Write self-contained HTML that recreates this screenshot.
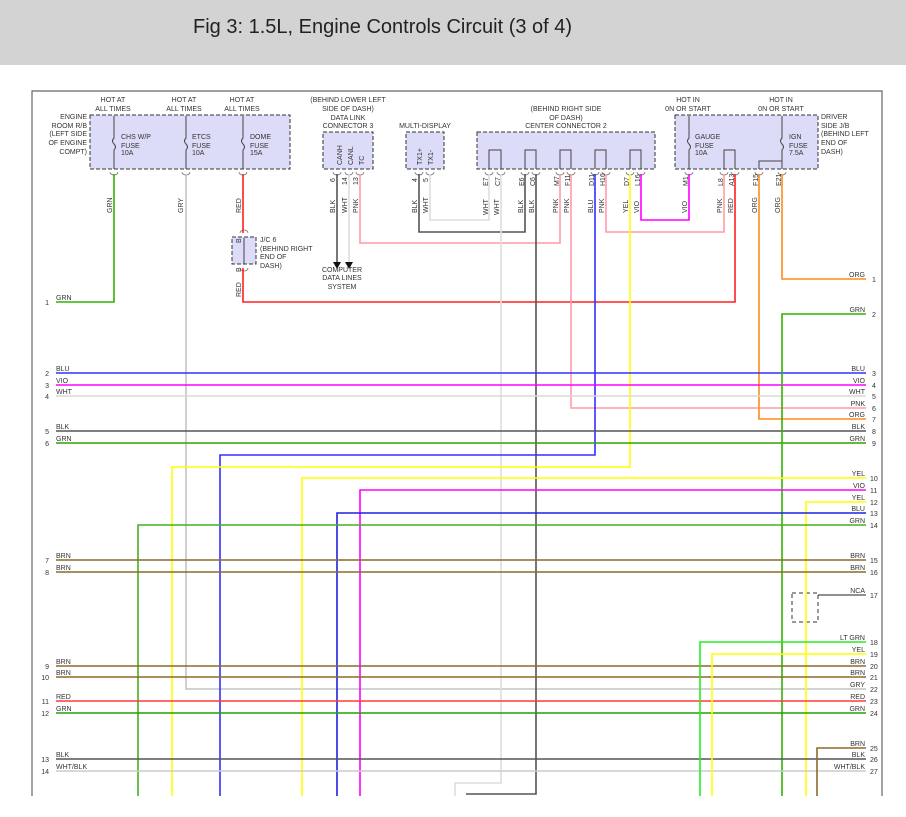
<!DOCTYPE html>
<html><head><meta charset="utf-8"><style>
html,body{margin:0;padding:0;background:#fff;}
svg{display:block;}
text{font-family:"Liberation Sans",sans-serif;font-size:7px;fill:#333;}
.t{font-family:"Liberation Sans",sans-serif;font-size:20px;fill:#222;}
.n{font-size:7px;fill:#444;}
</style></head><body>
<svg width="906" height="817" viewBox="0 0 906 817" xmlns="http://www.w3.org/2000/svg">
<rect x="0" y="0" width="906" height="65" fill="#d3d3d3"/>
<text class="t" x="193" y="33">Fig 3: 1.5L, Engine Controls Circuit (3 of 4)</text>

<path d="M32 796 V91 H882 V796" fill="none" stroke="#666" stroke-width="1.2"/>

<g fill="#dcdcf8" stroke="#333" stroke-dasharray="4,2" stroke-width="1">
<rect x="90" y="115" width="200" height="54"/>
<rect x="323" y="132" width="50" height="37"/>
<rect x="406" y="132" width="38" height="37"/>
<rect x="477" y="132" width="178" height="37"/>
<rect x="675" y="115" width="143" height="54"/>
<rect x="232" y="237" width="24" height="27"/>
</g>
<rect x="792" y="593" width="26" height="29" fill="none" stroke="#333" stroke-dasharray="4,3"/>

<g fill="none" stroke="#444" stroke-width="1">
<path d="M114 116V138 q-3 3 0 6 q3 3 0 6 V169"/>
<path d="M186 116V138 q-3 3 0 6 q3 3 0 6 V169"/>
<path d="M243 116V138 q-3 3 0 6 q3 3 0 6 V169"/>
<path d="M689 116V138 q-3 3 0 6 q3 3 0 6 V169"/>
<path d="M782 116V138 q-3 3 0 6 q3 3 0 6 V169"/>
<path d="M759 169 V161 H782"/>
<path d="M244 238V264"/>
<path d="M489 169V150H501V169 M525 169V150H536V169 M560 169V150H571V169 M595 169V150H606V169 M630 169V150H641V169 M724 169V150H735V169"/>
</g>
<g fill="none" stroke="#777" stroke-width="0.8">
<path d="M110 172 a4 3 0 0 0 8 0 M182 172 a4 3 0 0 0 8 0 M239 172 a4 3 0 0 0 8 0
M333 172 a4 3 0 0 0 8 0 M345 172 a4 3 0 0 0 8 0 M356 172 a4 3 0 0 0 8 0
M415 172 a4 3 0 0 0 8 0 M426 172 a4 3 0 0 0 8 0
M485 172 a4 3 0 0 0 8 0 M497 172 a4 3 0 0 0 8 0 M521 172 a4 3 0 0 0 8 0 M532 172 a4 3 0 0 0 8 0
M556 172 a4 3 0 0 0 8 0 M567 172 a4 3 0 0 0 8 0 M591 172 a4 3 0 0 0 8 0 M602 172 a4 3 0 0 0 8 0
M626 172 a4 3 0 0 0 8 0 M637 172 a4 3 0 0 0 8 0 M685 172 a4 3 0 0 0 8 0 M720 172 a4 3 0 0 0 8 0
M731 172 a4 3 0 0 0 8 0 M755 172 a4 3 0 0 0 8 0 M778 172 a4 3 0 0 0 8 0
M240 233 a4 3 0 0 1 8 0 M240 268 a4 3 0 0 0 8 0"/>
</g>

<g fill="none" stroke-width="1.6">
<path d="M114 174V302H56" stroke="#33b000"/>
<path d="M186 174V689H866" stroke="#c4c4c4"/>
<path d="M243 174V233 M243 268V302H735V174" stroke="#ff2020"/>
<path d="M337 174V262" stroke="#555"/>
<path d="M349 174V262" stroke="#ddd"/>
<path d="M360 174V243H560V174" stroke="#ff9aaa"/>
<path d="M419 174V232H525V174" stroke="#555"/>
<path d="M430 174V220H489V174" stroke="#ddd"/>
<path d="M501 174V783H455V796" stroke="#ddd"/>
<path d="M536 174V794H466" stroke="#555"/>
<path d="M571 174V408H866" stroke="#ff9aaa"/>
<path d="M595 174V455H220V796" stroke="#3030ff"/>
<path d="M606 174V232H724V174" stroke="#ff9aaa"/>
<path d="M630 174V467H172V796" stroke="#ffff00"/>
<path d="M641 174V220H689V174" stroke="#ff00ff"/>
<path d="M759 174V419H866" stroke="#ff8c1a"/>
<path d="M782 174V279H866" stroke="#ff8c1a"/>

<path d="M56 373H866" stroke="#3030ff"/>
<path d="M56 385H866" stroke="#ff00ff"/>
<path d="M56 396H866" stroke="#dadada"/>
<path d="M56 431H866" stroke="#555"/>
<path d="M56 443H866" stroke="#33a000"/>
<path d="M866 314H782V796" stroke="#33b000"/>
<path d="M866 478H302V796" stroke="#ffff00"/>
<path d="M866 490H360V796" stroke="#ff00ff"/>
<path d="M866 502H806V796" stroke="#ffff00"/>
<path d="M866 513H337V796" stroke="#2020e0"/>
<path d="M866 525H138V796" stroke="#44b020"/>
<path d="M56 560H866 M56 572H866 M56 666H866 M56 677H866" stroke="#8b6a2a"/>
<path d="M56 701H866" stroke="#ff3a3a"/>
<path d="M56 713H866" stroke="#22a000"/>
<path d="M56 759H866" stroke="#555"/>
<path d="M56 771H866" stroke="#ccc"/>
<path d="M866 642H700V796" stroke="#22ee22"/>
<path d="M866 654H712V796" stroke="#ffff00"/>
<path d="M866 748H817V796" stroke="#8b6a2a"/>
<path d="M866 595H818" stroke="#222" stroke-width="1"/>
</g>
<path d="M333 262h8l-4 7z M345 262h8l-4 7z" fill="#111"/>

<g text-anchor="middle">
<text x="113" y="102">HOT AT</text><text x="113" y="111">ALL TIMES</text>
<text x="184" y="102">HOT AT</text><text x="184" y="111">ALL TIMES</text>
<text x="242" y="102">HOT AT</text><text x="242" y="111">ALL TIMES</text>
<text x="348" y="102">(BEHIND LOWER LEFT</text><text x="348" y="111">SIDE OF DASH)</text>
<text x="348" y="120">DATA LINK</text><text x="348" y="128">CONNECTOR 3</text>
<text x="425" y="128">MULTI-DISPLAY</text>
<text x="566" y="111">(BEHIND RIGHT SIDE</text><text x="566" y="120">OF DASH)</text><text x="566" y="128">CENTER CONNECTOR 2</text>
<text x="688" y="102">HOT IN</text><text x="688" y="111">0N OR START</text>
<text x="781" y="102">HOT IN</text><text x="781" y="111">0N OR START</text>
<text x="342" y="272">COMPUTER</text><text x="342" y="280">DATA LINES</text><text x="342" y="289">SYSTEM</text>
</g>
<g text-anchor="end">
<text x="87" y="119">ENGINE</text><text x="87" y="128">ROOM R/B</text><text x="87" y="136">(LEFT SIDE</text><text x="87" y="145">OF ENGINE</text><text x="87" y="154">COMPT)</text>
</g>
<text x="121" y="139">CHS W/P</text><text x="121" y="148">FUSE</text><text x="121" y="155">10A</text>
<text x="192" y="139">ETCS</text><text x="192" y="148">FUSE</text><text x="192" y="155">10A</text>
<text x="250" y="139">DOME</text><text x="250" y="148">FUSE</text><text x="250" y="155">15A</text>
<text x="695" y="139">GAUGE</text><text x="695" y="148">FUSE</text><text x="695" y="155">10A</text>
<text x="789" y="139">IGN</text><text x="789" y="148">FUSE</text><text x="789" y="155">7.5A</text>
<text x="821" y="119">DRIVER</text><text x="821" y="128">SIDE J/B</text><text x="821" y="136">(BEHIND LEFT</text><text x="821" y="145">END OF</text><text x="821" y="154">DASH)</text>
<text x="260" y="242">J/C 6</text><text x="260" y="251">(BEHIND RIGHT</text><text x="260" y="259">END OF</text><text x="260" y="268">DASH)</text>

<g>
<text transform="translate(342,165) rotate(-90)">CANH</text>
<text transform="translate(353,165) rotate(-90)">CANL</text>
<text transform="translate(364,165) rotate(-90)">TC</text>
<text transform="translate(422,165) rotate(-90)">TX1+</text>
<text transform="translate(433,165) rotate(-90)">TX1-</text>
<text transform="translate(241,243) rotate(-90)">B</text>
<text transform="translate(241,272) rotate(-90)">B</text>
<text transform="translate(335,182) rotate(-90)">6</text>
<text transform="translate(347,185) rotate(-90)">14</text>
<text transform="translate(358,185) rotate(-90)">13</text>
<text transform="translate(417,182) rotate(-90)">4</text>
<text transform="translate(428,182) rotate(-90)">5</text>
<text transform="translate(488,186) rotate(-90)">E7</text>
<text transform="translate(500,186) rotate(-90)">C7</text>
<text transform="translate(524,186) rotate(-90)">E6</text>
<text transform="translate(535,186) rotate(-90)">C6</text>
<text transform="translate(559,186) rotate(-90)">M7</text>
<text transform="translate(570,186) rotate(-90)">F11</text>
<text transform="translate(594,186) rotate(-90)">D11</text>
<text transform="translate(605,186) rotate(-90)">H16</text>
<text transform="translate(629,186) rotate(-90)">D7</text>
<text transform="translate(640,186) rotate(-90)">L16</text>
<text transform="translate(688,186) rotate(-90)">M1</text>
<text transform="translate(723,186) rotate(-90)">L8</text>
<text transform="translate(734,186) rotate(-90)">A13</text>
<text transform="translate(758,186) rotate(-90)">F15</text>
<text transform="translate(781,186) rotate(-90)">E21</text>
<text transform="translate(112,213) rotate(-90)">GRN</text>
<text transform="translate(183,213) rotate(-90)">GRY</text>
<text transform="translate(241,213) rotate(-90)">RED</text>
<text transform="translate(241,297) rotate(-90)">RED</text>
<text transform="translate(335,213) rotate(-90)">BLK</text>
<text transform="translate(347,213) rotate(-90)">WHT</text>
<text transform="translate(358,213) rotate(-90)">PNK</text>
<text transform="translate(417,213) rotate(-90)">BLK</text>
<text transform="translate(428,213) rotate(-90)">WHT</text>
<text transform="translate(488,215) rotate(-90)">WHT</text>
<text transform="translate(499,215) rotate(-90)">WHT</text>
<text transform="translate(523,213) rotate(-90)">BLK</text>
<text transform="translate(534,213) rotate(-90)">BLK</text>
<text transform="translate(558,213) rotate(-90)">PNK</text>
<text transform="translate(569,213) rotate(-90)">PNK</text>
<text transform="translate(593,213) rotate(-90)">BLU</text>
<text transform="translate(604,213) rotate(-90)">PNK</text>
<text transform="translate(628,213) rotate(-90)">YEL</text>
<text transform="translate(639,213) rotate(-90)">VIO</text>
<text transform="translate(687,213) rotate(-90)">VIO</text>
<text transform="translate(722,213) rotate(-90)">PNK</text>
<text transform="translate(733,213) rotate(-90)">RED</text>
<text transform="translate(757,213) rotate(-90)">ORG</text>
<text transform="translate(780,213) rotate(-90)">ORG</text>
</g>

<g>
<text x="56" y="300">GRN</text><text x="56" y="371">BLU</text><text x="56" y="383">VIO</text><text x="56" y="394">WHT</text>
<text x="56" y="429">BLK</text><text x="56" y="441">GRN</text><text x="56" y="558">BRN</text><text x="56" y="570">BRN</text>
<text x="56" y="664">BRN</text><text x="56" y="675">BRN</text><text x="56" y="699">RED</text><text x="56" y="711">GRN</text>
<text x="56" y="757">BLK</text><text x="56" y="769">WHT/BLK</text>
</g>
<g class="n" text-anchor="end">
<text x="49" y="305">1</text><text x="49" y="376">2</text><text x="49" y="388">3</text><text x="49" y="399">4</text>
<text x="49" y="434">5</text><text x="49" y="446">6</text><text x="49" y="563">7</text><text x="49" y="575">8</text>
<text x="49" y="669">9</text><text x="49" y="680">10</text><text x="49" y="704">11</text><text x="49" y="716">12</text>
<text x="49" y="762">13</text><text x="49" y="774">14</text>
</g>
<g text-anchor="end">
<text x="865" y="277">ORG</text><text x="865" y="312">GRN</text><text x="865" y="371">BLU</text><text x="865" y="383">VIO</text>
<text x="865" y="394">WHT</text><text x="865" y="406">PNK</text><text x="865" y="417">ORG</text><text x="865" y="429">BLK</text>
<text x="865" y="441">GRN</text><text x="865" y="476">YEL</text><text x="865" y="488">VIO</text><text x="865" y="500">YEL</text>
<text x="865" y="511">BLU</text><text x="865" y="523">GRN</text><text x="865" y="558">BRN</text><text x="865" y="570">BRN</text>
<text x="865" y="593">NCA</text><text x="865" y="640">LT GRN</text><text x="865" y="652">YEL</text><text x="865" y="664">BRN</text>
<text x="865" y="675">BRN</text><text x="865" y="687">GRY</text><text x="865" y="699">RED</text><text x="865" y="711">GRN</text>
<text x="865" y="746">BRN</text><text x="865" y="757">BLK</text><text x="865" y="769">WHT/BLK</text>
</g>
<g class="n">
<text x="872" y="282">1</text><text x="872" y="317">2</text><text x="872" y="376">3</text><text x="872" y="388">4</text>
<text x="872" y="399">5</text><text x="872" y="411">6</text><text x="872" y="422">7</text><text x="872" y="434">8</text>
<text x="872" y="446">9</text><text x="870" y="481">10</text><text x="870" y="493">11</text><text x="870" y="505">12</text>
<text x="870" y="516">13</text><text x="870" y="528">14</text><text x="870" y="563">15</text><text x="870" y="575">16</text>
<text x="870" y="598">17</text><text x="870" y="645">18</text><text x="870" y="657">19</text><text x="870" y="669">20</text>
<text x="870" y="680">21</text><text x="870" y="692">22</text><text x="870" y="704">23</text><text x="870" y="716">24</text>
<text x="870" y="751">25</text><text x="870" y="762">26</text><text x="870" y="774">27</text>
</g>
</svg>
</body></html>
